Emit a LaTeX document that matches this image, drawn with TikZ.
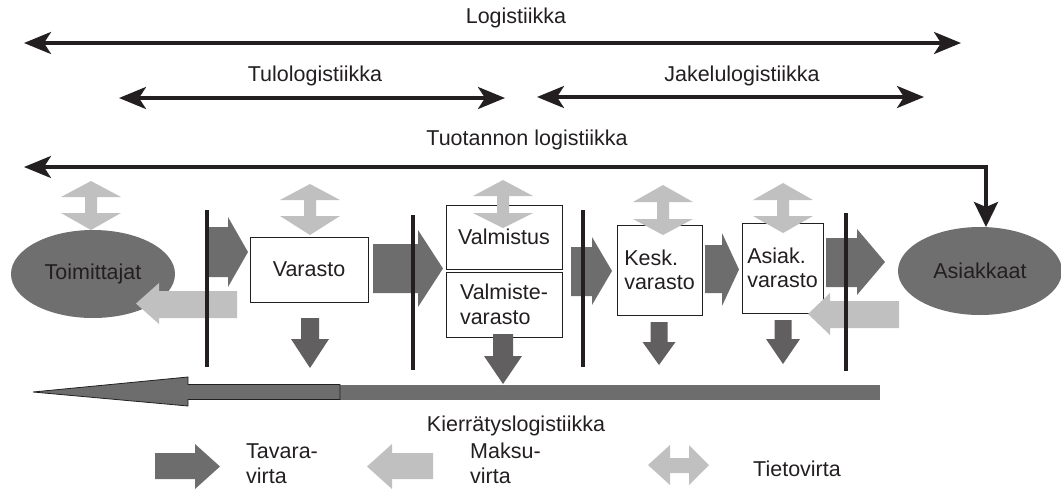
\documentclass[tikz,border=0pt]{standalone}
\usepackage{fontspec}
\setmainfont{Liberation Sans}
\usetikzlibrary{arrows.meta,shapes.geometric}

\definecolor{ink}{HTML}{231F20}
\definecolor{goods}{HTML}{6E6D6D}
\definecolor{goodsdown}{HTML}{615F5F}
\definecolor{pay}{HTML}{C0C0C0}
\definecolor{partyfill}{HTML}{706F6F}

% right-pointing block arrow: style, x0, head base, tip, body top, body bottom, head top, head bottom
\newcommand{\blockright}[8]{%
  \fill[#1] (#2,#5) -- (#3,#5) -- (#3,#7) -- (#4,{(#7+#8)/2}) -- (#3,#8) -- (#3,#6) -- (#2,#6) -- cycle;}
% left-pointing block arrow: style, tip, head base, x1, body top, body bottom, head top, head bottom
\newcommand{\blockleft}[8]{%
  \fill[#1] (#2,{(#7+#8)/2}) -- (#3,#7) -- (#3,#5) -- (#4,#5) -- (#4,#6) -- (#3,#6) -- (#3,#8) -- cycle;}
% downward block arrow: cx, half shaft, half head, shaft top, head base, tip
\newcommand{\blockdown}[6]{%
  \fill[goodsdown] (#1-#2,#4) -- (#1+#2,#4) -- (#1+#2,#5) -- (#1+#3,#5) -- (#1,#6) -- (#1-#3,#5) -- (#1-#2,#5) -- cycle;}
% vertical two-headed information arrow: cx, top tip, upper head base, lower head base, bottom tip
\newcommand{\infoarrow}[5]{%
  \fill[pay] (#1,#2) -- (#1+30,#3) -- (#1+6,#3) -- (#1+6,#4) -- (#1+30,#4) -- (#1,#5)
    -- (#1-30,#4) -- (#1-6,#4) -- (#1-6,#3) -- (#1-30,#3) -- cycle;}

\tikzset{
  lbl/.style={text=ink, font=\fontsize{21.5pt}{24.5pt}\selectfont, inner sep=0pt},
  partynode/.style={ellipse, fill=partyfill, lbl, minimum width=164pt, minimum height=88pt},
  stockbox/.style={draw=ink, line width=0.9pt, fill=white, lbl, align=left},
  spanline/.style={draw=ink, line width=3.5pt,
    {Stealth[length=27pt,width=22pt,inset=7pt]}-{Stealth[length=27pt,width=22pt,inset=7pt]}},
  stageline/.style={draw=ink, line width=3.5pt},
}

\begin{document}
\begin{tikzpicture}[x=1pt, y=-1pt]
\useasboundingbox (0,0) rectangle (1061,488);

% parties at both ends of the chain
\node[partynode] (toim) at (93,274) {Toimittajat};
\node[partynode] (asiak) at (980,271) {Asiakkaat};

% storage and production points
\node[stockbox, minimum width=118pt, minimum height=65pt] (varasto) at (309,269.5) {Varasto};
\node[stockbox, minimum width=116pt, minimum height=64pt] (valm) at (504,237) {Valmistus};
\node[stockbox, minimum width=116pt, minimum height=65pt] (valmv) at (504,304.5) {Valmiste-\\varasto};
\node[stockbox, minimum width=85pt, minimum height=90pt] (kesk) at (659.5,270) {Kesk.\\varasto};
\node[stockbox, minimum width=81pt, minimum height=90pt] (asv) at (782.5,268) {Asiak.\\varasto};

% flow of goods
\blockright{goods}{209}{228}{248}{227}{277}{217}{287}
\blockright{goods}{373}{418}{443}{244}{293}{230}{307}
\blockright{goods}{571}{592}{612}{247}{296}{237}{305}
\blockright{goods}{705}{722}{739}{245}{293}{233}{306}
\blockright{goods}{826}{857}{885}{238}{287}{229}{295}

% flow of payments
\blockleft{pay}{136}{159}{237}{291}{318}{283}{324}
\blockleft{pay}{808}{830}{899}{301}{328}{293}{335}

% returns from each stage
\blockdown{310}{9}{19}{318}{339}{368}
\blockdown{503}{10}{19}{334}{356}{384}
\blockdown{659}{8.5}{16.5}{322}{342}{365}
\blockdown{783}{8.5}{17}{320}{339}{364}

% flow of information
\infoarrow{91}{181}{197}{213}{230}
\infoarrow{310}{184}{200}{216}{235}
\infoarrow{503}{180}{196}{213}{228}
\infoarrow{663}{185}{202}{219}{235}
\infoarrow{783}{183}{200}{216}{233}

% boundaries between the logistics stages
\draw[stageline] (207,210) -- (207,367);
\draw[stageline] (413,215) -- (413,370);
\draw[stageline] (583,210) -- (583,367);
\draw[stageline] (846,213) -- (846,371);

% reverse logistics
\fill[goods] (335,384.5) rectangle (880,399.5);
\filldraw[fill=goods, draw=ink, line width=0.8pt]
  (33,392) -- (188,377) -- (188,384.5) -- (340,384.5) -- (340,399.5) -- (188,399.5) -- (188,406) -- cycle;
\node[lbl, anchor=base] (kierr) at (516,431) {Kierrätyslogistiikka};

% logistics ranges
\coordinate (logL) at (24,43);   \coordinate (logR) at (961,43);
\coordinate (tuloL) at (119,98); \coordinate (tuloR) at (505,98);
\coordinate (jakL) at (537,97);  \coordinate (jakR) at (924,97);
\coordinate (tuoL) at (24,167);  \coordinate (tuoC) at (986,167);
\coordinate (tuoE) at (986,227);

\draw[spanline] (logL) -- (logR);
\draw[spanline] (tuloL) -- (tuloR);
\draw[spanline] (jakL) -- (jakR);
\draw[draw=ink, line width=3.5pt,
  {Stealth[length=27pt,width=22pt,inset=7pt]}-{Stealth[length=25pt,width=24pt,inset=5pt]}]
  (tuoL) -- (tuoC) -- (tuoE);

\node[lbl, anchor=base] (tlog) at (516,23) {Logistiikka};
\node[lbl, anchor=base] (ttulo) at (315,81) {Tulologistiikka};
\node[lbl, anchor=base] (tjak) at (742,81) {Jakelulogistiikka};
\node[lbl, anchor=base] (ttuo) at (527,145) {Tuotannon logistiikka};

% legend
\blockright{goods}{155}{195}{220}{453}{479}{444}{489}
\node[lbl, anchor=base west, align=left] (ltav) at (246,483) {Tavara-\\virta};
\blockleft{pay}{367}{392}{433}{453}{479}{444}{489}
\node[lbl, anchor=base west, align=left] (lmak) at (470,483) {Maksu-\\virta};
\fill[pay] (648,465) -- (670,445) -- (670,458) -- (689,458) -- (689,445) -- (709,465)
  -- (689,485) -- (689,473) -- (670,473) -- (670,485) -- cycle;
\node[lbl, anchor=base west] (ltie) at (753,476) {Tietovirta};
\end{tikzpicture}
\end{document}
